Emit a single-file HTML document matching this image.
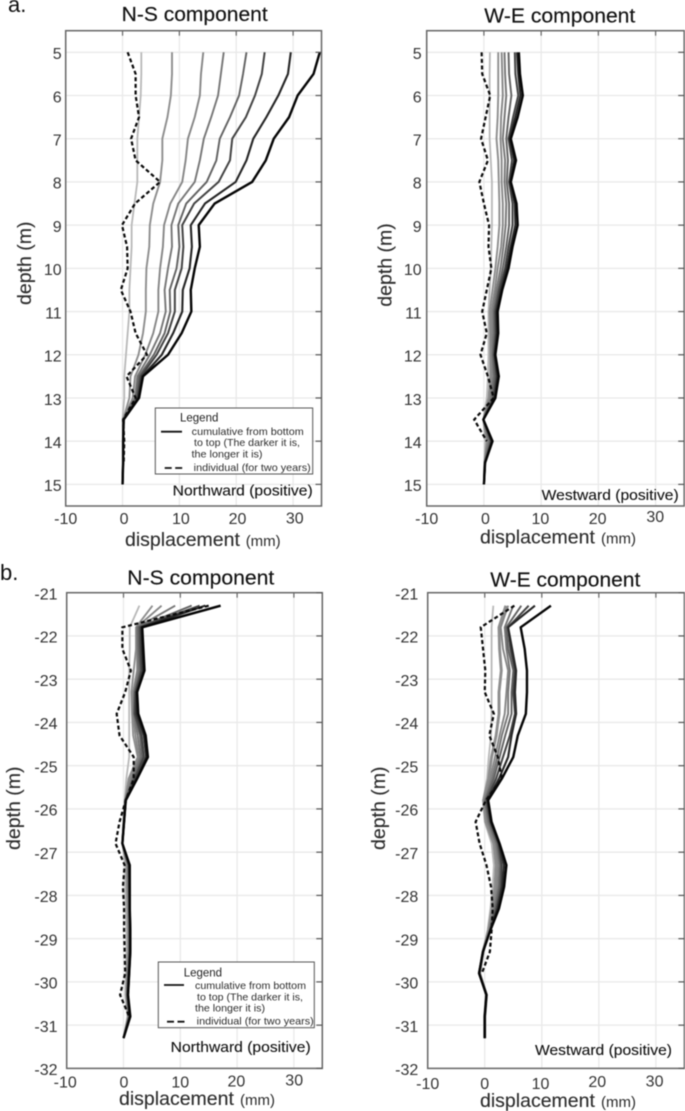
<!DOCTYPE html>
<html lang="en">
<head>
<meta charset="utf-8">
<title>N-S and W-E displacement profiles</title>
<style>
  html, body { margin: 0; padding: 0; background: #fff; }
  body { width: 685px; height: 1111px; overflow: hidden; }
  svg { display: block; filter: blur(0.4px); font-family: "Liberation Sans", sans-serif; }
  .tick-label { font-size: 16px; fill: #333; }
  .title { font-size: 20px; fill: #111; stroke: #111; stroke-width: 0.15px; }
  .panel-letter { font-size: 22px; fill: #111; }
  .axis-title { font-size: 19.5px; fill: #2c2c2c; stroke: #2c2c2c; stroke-width: 0.12px; }
  .unit { font-size: 15px; fill: #2c2c2c; }
  .legend-title { font-size: 11.5px; fill: #222; }
  .legend-text { font-size: 10.4px; fill: #2c2c2c; }
  .direction { font-size: 14.5px; fill: #111; stroke: #111; stroke-width: 0.1px; }
</style>
</head>
<body>
<svg id="chart" xmlns="http://www.w3.org/2000/svg" width="685" height="1111" viewBox="0 0 685 1111">
  <rect x="0" y="0" width="685" height="1111" fill="#fff"/>
  <g id="plots"></g>

  <!-- static labels -->
  <text class="panel-letter" x="8" y="12">a.</text>
  <text class="panel-letter" x="0" y="580">b.</text>

  <text class="title" x="121.7" y="21" textLength="146" lengthAdjust="spacingAndGlyphs">N-S component</text>
  <text class="title" x="484.3" y="22.7" textLength="151" lengthAdjust="spacingAndGlyphs">W-E component</text>
  <text class="title" x="127.3" y="584.3" textLength="147" lengthAdjust="spacingAndGlyphs">N-S component</text>
  <text class="title" x="490.3" y="586.7" textLength="150" lengthAdjust="spacingAndGlyphs">W-E component</text>

  <text class="axis-title" x="125" y="546">displacement</text>
  <text class="unit" x="245.7" y="546">(mm)</text>
  <text class="axis-title" x="480" y="543.3">displacement</text>
  <text class="unit" x="601" y="543.3">(mm)</text>
  <text class="axis-title" x="119" y="1105">displacement</text>
  <text class="unit" x="240" y="1105">(mm)</text>
  <text class="axis-title" x="480" y="1107">displacement</text>
  <text class="unit" x="601" y="1107">(mm)</text>

  <text class="axis-title" transform="translate(31 305) rotate(-90)">depth (m)</text>
  <text class="axis-title" transform="translate(391.7 306.7) rotate(-90)">depth (m)</text>
  <text class="axis-title" transform="translate(20 850) rotate(-90)">depth (m)</text>
  <text class="axis-title" transform="translate(385 850) rotate(-90)">depth (m)</text>

  <text class="direction" x="172.7" y="495.7" textLength="140" lengthAdjust="spacingAndGlyphs">Northward (positive)</text>
  <text class="direction" x="541.7" y="500" textLength="137" lengthAdjust="spacingAndGlyphs">Westward (positive)</text>
  <text class="direction" x="170.7" y="1052" textLength="140" lengthAdjust="spacingAndGlyphs">Northward (positive)</text>
  <text class="direction" x="535" y="1055" textLength="137" lengthAdjust="spacingAndGlyphs">Westward (positive)</text>

  <!-- legend panel a -->
  <g>
    <rect x="155.3" y="408" width="157.4" height="66" fill="#fff" stroke="#555" stroke-width="1"/>
    <text class="legend-title" x="180" y="421.7">Legend</text>
    <line x1="161" y1="431.7" x2="182" y2="431.7" stroke="#111" stroke-width="1.8"/>
    <text class="legend-text" x="191.7" y="435" textLength="112" lengthAdjust="spacingAndGlyphs">cumulative from bottom</text>
    <text class="legend-text" x="194" y="446" textLength="106" lengthAdjust="spacingAndGlyphs">to top (The darker it is,</text>
    <text class="legend-text" x="191.5" y="457.7" textLength="71" lengthAdjust="spacingAndGlyphs">the longer it is)</text>
    <line x1="164.7" y1="468" x2="182.7" y2="468" stroke="#111" stroke-width="1.8" stroke-dasharray="7 3.5"/>
    <text class="legend-text" x="193.7" y="471" textLength="117" lengthAdjust="spacingAndGlyphs">individual (for two years)</text>
  </g>

  <!-- legend panel b -->
  <g>
    <rect x="158.3" y="962" width="156" height="65.7" fill="#fff" stroke="#555" stroke-width="1"/>
    <text class="legend-title" x="183.7" y="976.7">Legend</text>
    <line x1="164" y1="985" x2="184" y2="985" stroke="#111" stroke-width="1.8"/>
    <text class="legend-text" x="195" y="989" textLength="111" lengthAdjust="spacingAndGlyphs">cumulative from bottom</text>
    <text class="legend-text" x="197" y="1000.7" textLength="106" lengthAdjust="spacingAndGlyphs">to top (The darker it is,</text>
    <text class="legend-text" x="195" y="1011.7" textLength="70" lengthAdjust="spacingAndGlyphs">the longer it is)</text>
    <line x1="167" y1="1021.7" x2="186" y2="1021.7" stroke="#111" stroke-width="1.8" stroke-dasharray="7 3.5"/>
    <text class="legend-text" x="196.7" y="1024.7" textLength="117" lengthAdjust="spacingAndGlyphs">individual (for two years)</text>
  </g>
</svg>

<script>
// ---------- data: depth samples (m) ----------
const depthsA = [5,5.5,6,6.5,7,7.5,8,8.5,9,9.5,10,10.5,11,11.5,12,12.5,13,13.5,14,14.5,15];
const depthsB = [-21.3,-21.8,-22.3,-22.8,-23.3,-23.8,-24.3,-24.8,-25.3,-25.8,-26.3,-26.8,-27.3,-27.8,-28.3,-28.8,-29.3,-29.8,-30.3,-30.8,-31.3];

// ---------- data: panel a, N-S (mm) ----------
const aNsCum1 = [3.3,3.3,3.2,2.9,2.6,2.6,2.6,2.1,1.6,1.6,1.4,1.2,1.2,0.9,0.6,0.3,0.3,0,0.1,0.1,0];
const aNsCum2 = [8.7,8.7,8.5,7.9,7,7,6.6,5.4,4.8,4.7,4.2,4.1,4.1,3.6,2.8,1.4,1.2,0.1,0.1,0.1,0];
const aNsCum3 = [14.2,13.8,13.6,12.7,11.5,11.1,10.5,8.4,7.3,7.1,6.6,6.3,6.3,5.4,4,2.2,1.8,0.1,0.1,0.1,0];
const aNsCum4 = [17.8,17.3,16.8,15.6,14.3,13.6,12.7,9.8,8.6,8.7,8,7.4,7.6,6.6,4.8,2.6,2.2,0.1,0.1,0.1,0];
const aNsCum5 = [21.8,21.2,20.5,18.9,17.1,16.5,14.8,11.2,9.8,10,9.5,8.3,8.4,7.4,5.5,2.9,2.4,0.2,0.1,0.1,0];
const aNsCum6 = [25,24.5,23.3,21.7,19.3,18.9,16.9,12.6,10.5,10.7,10.4,9.2,9.2,8,6,3.2,2.6,0.2,0.1,0.1,0];
const aNsCum7 = [29.6,29.1,27.4,25.3,23,21.8,19.9,14.5,12,12.2,11.8,10.6,10.5,8.9,6.9,3.5,2.8,0.2,0.1,0.1,0];
const aNsCum8 = [34.7,33.6,30.8,29.3,26.6,25.2,22.8,16.2,13.4,13.6,12.7,12,12.1,10.4,8,3.6,2.9,0.2,0.1,0.1,0];
const aNsInd  = [0.9,2.3,2.3,2.9,1.5,2.3,6.6,2.2,-0.1,0.8,0.9,-0.3,1.4,2.3,4.3,0.7,2.3,0.1,0.3,0.2];

// ---------- data: panel a, W-E (mm) ----------
const aWeCum1 = [1.05,1,1,1,1,1.2,1.4,1.4,1.4,1.3,1.2,1,0.8,0.8,0.8,0.7,0.5,-0.1,0.2,0.1,0];
const aWeCum2 = [2.5,2.5,2.5,2.4,2.2,2.5,2.6,2.7,2.7,2.4,2,1.5,1,1.1,1.1,1.1,0.8,-0.1,0.5,0.1,0];
const aWeCum3 = [3.1,3.2,3.3,3,2.9,3.1,3.1,3.3,3.3,3,2.4,1.9,1.3,1.3,1.3,1.4,1,-0.1,0.7,0.1,0];
const aWeCum4 = [3.6,3.7,3.9,3.6,3.3,3.7,3.6,3.9,3.8,3.4,2.9,2.2,1.6,1.6,1.5,1.7,1.2,-0.1,0.9,0.1,0];
const aWeCum5 = [4.3,4.4,4.8,4.3,3.9,4.2,4,4.4,4.4,3.9,3.3,2.5,1.8,1.9,1.6,1.9,1.5,-0.1,1.1,0.2,0];
const aWeCum6 = [5.4,5.5,6,5.1,4.3,4.9,4.4,5,5,4.3,3.7,2.7,2,2.1,1.8,2.2,1.7,-0.1,1.3,0.2,0];
const aWeCum7 = [5.8,6,6.4,5.5,4.5,5.3,4.6,5.4,5.5,4.7,4,3,2.2,2.3,1.9,2.4,1.9,-0.1,1.4,0.2,0];
const aWeCum8 = [6.1,6.3,6.8,5.9,4.7,5.6,4.7,5.7,5.9,5,4.3,3.2,2.4,2.5,2,2.6,2,-0.1,1.5,0.2,0];
const aWeInd  = [-0.4,-0.3,1.1,0.3,-0.5,0.7,-0.8,0,0.9,0.8,1.3,0.5,-0.3,0.5,-0.6,0.7,1.7,-1.7,0.5];

// ---------- data: panel b, N-S (mm) ----------
const bNsCum1 = [2.8,1.1,1.1,1,1,1,1,1,0.5,0.2,0,-0.2,0.3,0.3,0.4,0.5,0.5,0.4,0.3,0.7,0];
const bNsCum2 = [5.1,2.2,2.2,1.8,1.4,1.5,1.7,2.5,0.9,0.3,0,-0.2,0.6,0.6,0.7,0.8,0.8,0.6,0.5,0.8,0];
const bNsCum3 = [6.7,2.3,2.4,2.4,1.7,1.7,2.1,2.7,1.2,0.3,0,-0.2,0.7,0.8,0.9,0.9,0.9,0.7,0.6,0.9,0];
const bNsCum4 = [9.1,2.4,2.5,2.7,1.9,1.8,2.5,3,1.5,0.3,0.1,-0.2,0.8,0.9,1,1,1,0.8,0.6,1,0];
const bNsCum5 = [12,2.6,2.7,3,2,1.9,2.9,3.3,1.8,0.3,0.1,-0.2,0.9,1,1,1.1,1.1,0.9,0.7,1,0];
const bNsCum6 = [13.4,2.9,3,3.2,2.1,2,3.2,3.6,2,0.4,0.1,-0.2,1,1,1.1,1.1,1.1,0.9,0.7,1.1,0];
const bNsCum7 = [14.4,3.2,3.3,3.5,2.3,2.3,3.6,4,2.3,0.4,0.1,-0.2,1,1.1,1.1,1.2,1.2,1,0.8,1.1,0];
const bNsCum8 = [17.1,3.3,3.5,3.7,2.4,2.6,3.9,4.3,2.4,0.4,0.1,-0.2,1.1,1.1,1.1,1.2,1.2,1,0.8,1.2,0];
const bNsInd  = [15,-0.2,-0.2,1.3,0.3,-1.2,-0.7,1.8,1.8,0.4,-0.7,-1.4,0.2,-0.1,0.1,0.1,0.2,0.3,-0.6,1];

// ---------- data: panel b, W-E (mm) ----------
const bWeCum1 = [1.5,1.2,1.2,1.2,1.2,1.2,1.1,0.7,0.4,-0.3,0,1.2,1.6,1.4,1,0.5,-0.3,-0.8,0.3,0,0];
const bWeCum2 = [3.7,2.5,2.6,2.9,2.5,2.5,2,1.2,0.7,-0.2,0.2,1.6,2,1.8,1.3,0.7,-0.3,-0.9,0.3,0,0];
const bWeCum3 = [4.1,2.8,3.2,4.1,3.8,3.5,2.6,1.8,1,-0.1,0.4,1.8,2.3,2.1,1.5,0.8,-0.3,-0.9,0.3,0,0];
const bWeCum4 = [5,3.5,3.8,4.4,4.1,4.1,3,2.2,1.3,0,0.6,2,2.6,2.4,1.7,0.9,-0.3,-0.9,0.3,0,0];
const bWeCum5 = [6.4,3.8,4.1,5,4.7,4.7,3.6,2.6,1.6,0.1,0.8,2.2,2.8,2.6,1.9,0.9,-0.3,-1,0.3,0,0];
const bWeCum6 = [7.7,4.1,4.5,5.3,5,5.3,4.4,3.2,2,0.3,1,2.4,3,2.9,2.1,1,-0.3,-1,0.3,0,0];
const bWeCum7 = [8.8,4.1,4.8,5.5,5.3,5.5,4.7,4.1,2.5,0.5,1.1,2.5,3.4,3.1,2.3,1,-0.3,-1,0.3,0,0];
const bWeCum8 = [11.6,6.3,7,7.4,7.4,7.2,5.8,5,3,0.6,1.2,2.6,3.8,3.4,2.5,1,-0.3,-1,0.3,0,0];
const bWeInd  = [5.2,-0.7,-0.3,0.1,0,1.6,0.8,2.3,3,0.2,-1.6,-0.9,0.3,1.1,1.4,1.2,0.9,-0.5];

// ---------- data: tick values ----------
const xTicks = [-10,0,10,20,30];
const xTickLabels = ['-10','0','10','20','30'];
const yTicksA = [5,6,7,8,9,10,11,12,13,14,15];
const yTickLabelsA = ['5','6','7','8','9','10','11','12','13','14','15'];
const yTicksB = [-21,-22,-23,-24,-25,-26,-27,-28,-29,-30,-31,-32];
const yTickLabelsB = ['-21','-22','-23','-24','-25','-26','-27','-28','-29','-30','-31','-32'];

// ---------- styling ----------
const NS = 'http://www.w3.org/2000/svg';
const seriesColors = ['#b8b8b8','#8e8e8e','#868686','#767676','#626262','#444444','#262626','#050505'];
const seriesWidths = [1.8,1.9,1.9,1.9,1.9,2,2.1,2.4];

const panels = [
  { name:'panel-a-ns', box:{l:65.7,r:321.5,t:30.7,b:506}, yDomain:[4.5,15.5], depths:depthsA,
    cum:[aNsCum1,aNsCum2,aNsCum3,aNsCum4,aNsCum5,aNsCum6,aNsCum7,aNsCum8], ind:aNsInd,
    yTicks:yTicksA, yLabels:yTickLabelsA, yLabelRight:61.7, xLabelY:524, xNudge:[0,1.5,1.5,1.3,1.7], yNudge:[0,0,0,0,-0.7], wide:{} },
  { name:'panel-a-we', box:{l:426.7,r:684.2,t:30.7,b:506}, yDomain:[4.5,15.5], depths:depthsA,
    cum:[aWeCum1,aWeCum2,aWeCum3,aWeCum4,aWeCum5,aWeCum6,aWeCum7,aWeCum8], ind:aWeInd,
    yTicks:yTicksA, yLabels:yTickLabelsA, yLabelRight:421.7, xLabelY:524, xNudge:[0,1.5,-0.7,-0.7,-0.3], yNudge:[0,0,0,0,-2], wide:{} },
  { name:'panel-b-ns', box:{l:66.7,r:322.3,t:592.7,b:1068.4}, yDomain:[-21,-32], depths:depthsB,
    cum:[bNsCum1,bNsCum2,bNsCum3,bNsCum4,bNsCum5,bNsCum6,bNsCum7,bNsCum8], ind:bNsInd,
    yTicks:yTicksB, yLabels:yTickLabelsB, yLabelRight:57.5, xLabelY:1087.3, xNudge:[-1.5,0.5,0,-0.7,0.3], yNudge:[0,0,0,-0.7,-1.6], wide:{} },
  { name:'panel-b-we', box:{l:427.7,r:684.4,t:592.7,b:1068.4}, yDomain:[-21,-32], depths:depthsB,
    cum:[bWeCum1,bWeCum2,bWeCum3,bWeCum4,bWeCum5,bWeCum6,bWeCum7,bWeCum8], ind:bWeInd,
    yTicks:yTicksB, yLabels:yTickLabelsB, yLabelRight:418.3, xLabelY:1089, xNudge:[0,0,-1.3,-1.6,-1.3], yNudge:[0,0,0,-2,-2.3], wide:{1:2.9} }
];

function scale(d0, d1, r0, r1) {
  return function (v) { return r0 + (v - d0) * (r1 - r0) / (d1 - d0); };
}

function make(tag, attrs, parent) {
  const el = document.createElementNS(NS, tag);
  for (const k in attrs) el.setAttribute(k, attrs[k]);
  parent.appendChild(el);
  return el;
}

function drawPanel(p) {
  const root = document.getElementById('plots');
  const x = scale(-10, 35, p.box.l, p.box.r);
  const y = scale(p.yDomain[0], p.yDomain[1], p.box.t, p.box.b);

  const g = make('g', {}, root);
  
  

  // grid
  xTicks.forEach(function (v) {
    if (v === -10) return;
    const gl = make('line', {x1:x(v), x2:x(v), y1:p.box.t, y2:p.box.b, stroke:'#e9e9e9', 'stroke-width':1.3}, g);
    
    
  });
  p.yTicks.forEach(function (v) {
    const gl = make('line', {x1:p.box.l, x2:p.box.r, y1:y(v), y2:y(v), stroke:'#e9e9e9', 'stroke-width':1.3}, g);
    
    
  });

  // cumulative series
  p.cum.forEach(function (vals, i) {
    const pts = vals.map(function (v, k) { return x(v).toFixed(2) + ',' + y(p.depths[k]).toFixed(2); }).join(' ');
    const line = make('polyline', {points:pts, fill:'none', stroke:seriesColors[i], 'stroke-width':p.wide[i] || seriesWidths[i], 'stroke-linejoin':'round'}, g);
    
    
  });

  // individual series
  const indPts = p.ind.map(function (v, k) { return x(v).toFixed(2) + ',' + y(p.depths[k]).toFixed(2); }).join(' ');
  const dash = make('polyline', {points:indPts, fill:'none', stroke:'#0a0a0a', 'stroke-width':2.2, 'stroke-dasharray':'4 2.6'}, g);
  
  

  // frame
  const frame = make('rect', {x:p.box.l, y:p.box.t, width:p.box.r - p.box.l, height:p.box.b - p.box.t, fill:'none', stroke:'#666', 'stroke-width':1.5}, g);
  
  

  // ticks and labels
  xTicks.forEach(function (v, i) {
    if (v !== -10) {
      const t = make('line', {x1:x(v), x2:x(v), y1:p.box.t, y2:p.box.t + 5, stroke:'#666', 'stroke-width':1.2}, g);
      
      
    }
    const lab = make('text', {x:x(v) + p.xNudge[i], y:p.xLabelY + p.yNudge[i], 'text-anchor':'middle', class:'tick-label'}, g);
    lab.textContent = xTickLabels[i];
    
    
  });
  p.yTicks.forEach(function (v, i) {
    const t = make('line', {x1:p.box.r - 6, x2:p.box.r, y1:y(v), y2:y(v), stroke:'#555', 'stroke-width':1.2}, g);
    
    
    const lab = make('text', {x:p.yLabelRight, y:y(v) + 6.8, 'text-anchor':'end', class:'tick-label'}, g);
    lab.textContent = p.yLabels[i];
    
    
  });
}

panels.forEach(drawPanel);
</script>
</body>
</html>
